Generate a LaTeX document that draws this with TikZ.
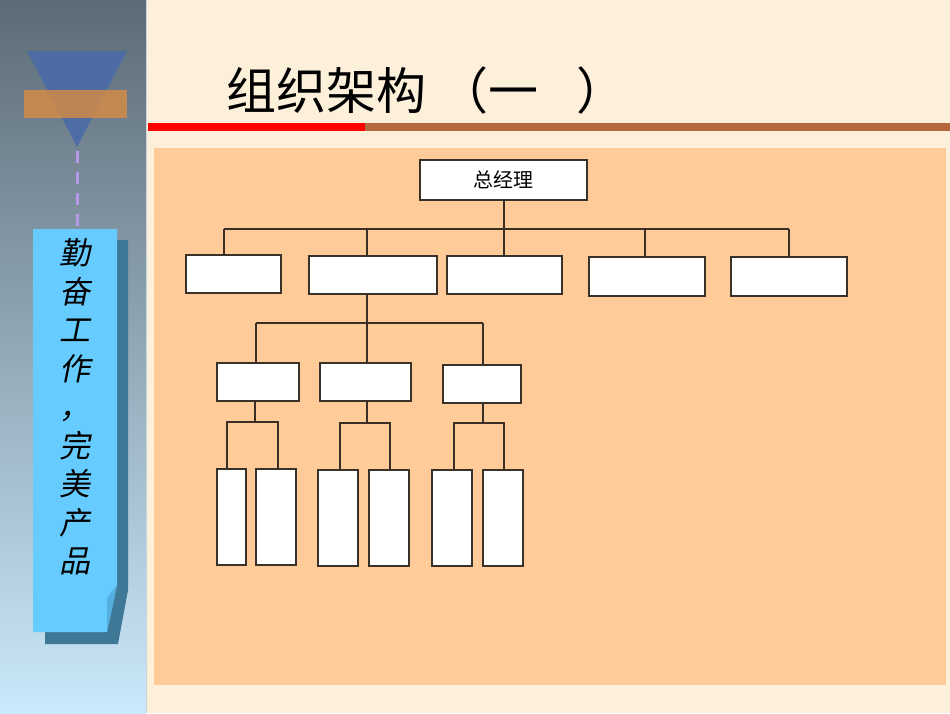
\documentclass[tikz,border=0pt]{standalone}
\usepackage{fontspec}
\newfontfamily\cjk{Noto Sans CJK SC}
\newfontfamily\cjksl[FakeSlant=0.2]{Noto Sans CJK SC}
\definecolor{cream}{HTML}{FCF0DB}
\definecolor{panelc}{HTML}{FECB99}
\definecolor{leftTop}{HTML}{5C6B76}
\definecolor{leftMid}{HTML}{8EA5B5}
\definecolor{leftBot}{HTML}{CBE9FB}
\definecolor{leftEdge}{HTML}{C4D4DE}
\definecolor{tric}{HTML}{4A6AAA}
\definecolor{orngc}{HTML}{D98C42}
\definecolor{dashc}{HTML}{B898E8}
\definecolor{mottoc}{HTML}{66CCFF}
\definecolor{foldc}{HTML}{55AEE0}
\definecolor{shadowc}{HTML}{3E7896}
\definecolor{barred}{HTML}{FF0000}
\definecolor{barbrown}{HTML}{B5683D}
\definecolor{boxline}{HTML}{3A3129}
\definecolor{connline}{HTML}{3B2F25}
\begin{document}
\begin{tikzpicture}[x=1pt,y=-1pt,
  orgbox/.style={draw=boxline, line width=1.3pt, fill=white, inner sep=0pt},
  conn/.style={draw=connline, line width=1.3pt}]
\useasboundingbox (0,0) rectangle (950,713);
% backgrounds
\fill[cream] (0,0) rectangle (950,713);
\shade[top color=leftTop, middle color=leftMid, bottom color=leftBot] (0,0) rectangle (146,713);
\draw[leftEdge, line width=1.5pt] (146.5,0) -- (146.5,713);
% left decoration
\fill[tric, opacity=0.85] (27,51) -- (127,51) -- (77,147) -- cycle;
\fill[orngc, opacity=0.8] (24,90) rectangle (127,118);
\draw[dashc, line width=3pt, dash pattern=on 12pt off 9pt] (77,151) -- (77,228);
% motto card
\fill[shadowc] (45,240) -- (128,240) -- (128,590) -- (118,644) -- (45,644) -- cycle;
\fill[mottoc] (33,229) -- (117,229) -- (117,585) -- (107,632) -- (33,632) -- cycle;
\fill[foldc] (117,585) -- (107,632) -- (107,598) -- cycle;
\node[font=\cjksl\fontsize{31}{38.5}\selectfont, align=center, inner sep=0pt] (motto) at (75,407)
  {勤\\奋\\工\\作\\，\\完\\美\\产\\品};
% title
\node[font=\cjk\fontsize{50}{50}\selectfont, anchor=west, inner sep=0pt] (title) at (226,90)
  {组织架构\hspace{12pt}（一\hspace{38pt}）};
\fill[barred] (148,123) rectangle (365,131);
\fill[barbrown] (365,123) rectangle (950,131);
% panel
\fill[panelc] (154,148) rectangle (946,685);
% org chart boxes
\node[orgbox, minimum width=167pt, minimum height=40pt, font=\cjk\fontsize{20}{20}\selectfont] (gm) at (503.5,180) {总经理};
\node[orgbox, minimum width=95pt,  minimum height=38pt] (a1) at (233.5,274) {};
\node[orgbox, minimum width=128pt, minimum height=38pt] (a2) at (373,275) {};
\node[orgbox, minimum width=115pt, minimum height=38pt] (a3) at (504.5,275) {};
\node[orgbox, minimum width=116pt, minimum height=39pt] (a4) at (647,276.5) {};
\node[orgbox, minimum width=116pt, minimum height=39pt] (a5) at (789,276.5) {};
\node[orgbox, minimum width=82pt, minimum height=38pt] (b1) at (258,382) {};
\node[orgbox, minimum width=91pt, minimum height=38pt] (b2) at (365.5,382) {};
\node[orgbox, minimum width=78pt, minimum height=38pt] (b3) at (482,384) {};
\node[orgbox, minimum width=29pt, minimum height=96pt] (c1) at (231.5,517) {};
\node[orgbox, minimum width=40pt, minimum height=96pt] (c2) at (276,517) {};
\node[orgbox, minimum width=40pt, minimum height=96pt] (c3) at (338,518) {};
\node[orgbox, minimum width=40pt, minimum height=96pt] (c4) at (389,518) {};
\node[orgbox, minimum width=40pt, minimum height=96pt] (c5) at (452,518) {};
\node[orgbox, minimum width=40pt, minimum height=96pt] (c6) at (503,518) {};
% level 1 connectors
\coordinate (busL) at (224,229);
\coordinate (d2) at (367,229);
\coordinate (d3) at (504,229);
\coordinate (d4) at (645,229);
\coordinate (busR) at (789,229);
\draw[conn] (gm.south -| d3) -- (d3);
\draw[conn] (busL) -- (busR);
\draw[conn] (busL) -- (a1.north -| busL);
\draw[conn] (d2) -- (a2.north -| d2);
\draw[conn] (d3) -- (a3.north -| d3);
\draw[conn] (d4) -- (a4.north -| d4);
\draw[conn] (busR) -- (a5.north -| busR);
% level 2 connectors
\coordinate (e1) at (256,323);
\coordinate (e2) at (367,323);
\coordinate (e3) at (483,323);
\draw[conn] (a2.south -| d2) -- (e2);
\draw[conn] (e1) -- (e3);
\draw[conn] (e1) -- (b1.north -| e1);
\draw[conn] (e2) -- (b2.north -| e2);
\draw[conn] (e3) -- (b3.north -| e3);
% level 3 connectors
\coordinate (f1) at (255,422);
\coordinate (f1l) at (227,422);
\coordinate (f1r) at (278,422);
\draw[conn] (b1.south -| f1) -- (f1);
\draw[conn] (c1.north -| f1l) -- (f1l) -- (f1r) -- (c2.north -| f1r);
\coordinate (f2) at (367,423);
\coordinate (f2l) at (340,423);
\coordinate (f2r) at (390,423);
\draw[conn] (b2.south -| f2) -- (f2);
\draw[conn] (c3.north -| f2l) -- (f2l) -- (f2r) -- (c4.north -| f2r);
\coordinate (f3) at (483,423);
\coordinate (f3l) at (454,423);
\coordinate (f3r) at (504,423);
\draw[conn] (b3.south -| f3) -- (f3);
\draw[conn] (c5.north -| f3l) -- (f3l) -- (f3r) -- (c6.north -| f3r);
\end{tikzpicture}
\end{document}
